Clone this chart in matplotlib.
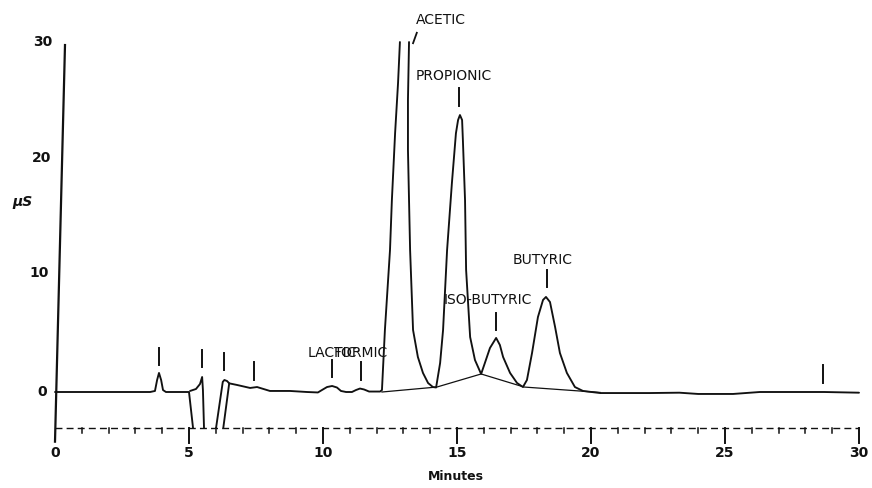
import matplotlib
matplotlib.use("Agg")
import matplotlib.pyplot as plt

# ---------------- data (minutes, µS) ----------------
# detector trace, drawn as pen strokes
trace_a_t = [0.0, 3.55, 3.73, 3.81, 3.88, 3.96, 4.03, 4.14, 5.0, 5.15]
trace_a_y = [0.0, 0.0, 0.09, 1.04, 1.65, 1.04, 0.17, 0.0, 0.0, -3.1]

trace_b_t = [5.04, 5.26, 5.41, 5.49, 5.52, 5.56]
trace_b_y = [0.09, 0.26, 0.69, 1.30, 0.17, -3.1]

trace_c_t = [6.01, 6.26, 6.32, 6.42, 6.50, 6.79, 7.28, 7.54, 8.02, 8.77, 9.40,
             9.81, 9.96, 10.15, 10.34, 10.52, 10.67, 10.86, 11.08, 11.23, 11.38,
             11.53, 11.72, 12.13, 12.20, 12.31, 12.50, 12.57, 12.69, 12.80, 12.87]
trace_c_y = [-3.1, 0.87, 1.04, 0.95, 0.75, 0.61, 0.35, 0.43, 0.09, 0.09, 0.0,
             -0.04, 0.17, 0.43, 0.52, 0.39, 0.09, 0.0, 0.0, 0.17, 0.30,
             0.22, 0.04, 0.04, 0.17, 5.37, 12.29, 16.6, 22.4, 26.75, 30.3]

trace_d_t = [6.50, 6.28]
trace_d_y = [0.75, -3.1]

trace_e_t = [13.21, 13.17, 13.17, 13.21, 13.25, 13.36, 13.54, 13.73, 13.92, 14.10,
             14.22, 14.37, 14.48, 14.63, 14.81, 14.96, 15.04, 15.11, 15.19, 15.22,
             15.30, 15.34, 15.49, 15.67, 15.90, 16.04, 16.23, 16.46, 16.60, 16.72,
             16.98, 17.24, 17.46, 17.61, 17.80, 18.02, 18.21, 18.32, 18.47, 18.66,
             18.84, 19.10, 19.40, 19.70, 20.34, 22.2, 23.3, 24.0, 25.3, 26.3,
             27.8, 28.7, 30.0]
trace_e_y = [30.3, 25.3, 20.95, 16.6, 12.29, 5.37, 3.03, 1.65, 0.78, 0.43,
             0.39, 2.51, 5.37, 12.29, 18.1, 22.4, 23.55, 23.98, 23.55, 21.8,
             16.6, 10.56, 4.76, 2.77, 1.56, 2.51, 3.81, 4.68, 4.07, 3.03,
             1.65, 0.78, 0.43, 1.04, 3.38, 6.49, 7.97, 8.23, 7.79, 5.63,
             3.38, 1.65, 0.43, 0.09, -0.09, -0.09, -0.06, -0.17, -0.17, 0.0,
             0.0, 0.0, -0.06]

# integration baseline drawn under the acid peaks
base_t = [12.20, 14.25, 15.90, 17.50, 20.34]
base_y = [0.0, 0.43, 1.56, 0.43, -0.04]

# integration event marks (time, bottom, top)
mark_t = [3.88, 5.49, 6.31, 7.43, 10.34, 11.42, 15.07, 16.46, 18.36, 28.66]
mark_lo = [2.34, 2.16, 1.90, 1.04, 1.30, 1.04, 24.8, 5.4, 9.1, 0.78]
mark_hi = [3.81, 3.64, 3.38, 2.60, 2.77, 2.60, 26.3, 6.8, 10.6, 2.34]

# peak names and label anchors
peak_names = ["LACTIC", "FORMIC", "ACETIC", "PROPIONIC", "ISO-BUTYRIC", "BUTYRIC"]
label_t = [10.34, 11.42, 13.45, 13.45, 16.15, 18.20]
label_y = [3.4, 3.4, 32.2, 27.4, 8.0, 11.4]
label_ha = ["center", "center", "left", "left", "center", "center"]

x_ticks = [0, 5, 10, 15, 20, 25, 30]
y_ticks = [0, 10, 20, 30]
y_unit = "\u00b5S"
x_title = "Minutes"

# ---------------- drawing ----------------
PX_X0, PX_PER_MIN = 55.0, 26.8
PX_Y0, PX_PER_US = 392.0, 11.55
W, H = 872, 488

fig = plt.figure(figsize=(W / 100, H / 100), dpi=100)
ax = fig.add_axes([0, 0, 1, 1])
ax.set_xlim(-PX_X0 / PX_PER_MIN, (W - PX_X0) / PX_PER_MIN)
ax.set_ylim((PX_Y0 - H) / PX_PER_US, PX_Y0 / PX_PER_US)
ax.axis("off")

ink = "#111111"
AXIS_Y = -3.1

for t, y in [(trace_a_t, trace_a_y), (trace_b_t, trace_b_y),
             (trace_c_t, trace_c_y), (trace_d_t, trace_d_y), (trace_e_t, trace_e_y)]:
    ax.plot(t, y, color=ink, lw=1.35, solid_joinstyle="round", solid_capstyle="round")

ax.plot(base_t, base_y, color=ink, lw=0.9)

for t, lo, hi in zip(mark_t, mark_lo, mark_hi):
    ax.plot([t, t], [lo, hi], color=ink, lw=1.4)
# slanted acetic mark
ax.plot([13.36, 13.50], [30.2, 31.1], color=ink, lw=1.3)

for name, t, y, ha in zip(peak_names, label_t, label_y, label_ha):
    ax.text(t, y, name, ha=ha, va="center", fontsize=10, color=ink,
            family="DejaVu Sans")

# left (slanted) signal axis
ax.plot([0.373, 0.0], [30.04, -4.3], color=ink, lw=1.6)
y_lab_t = [-0.49, -0.60, -0.49, -0.45]
y_lab_y = [0.0, 10.3, 20.3, 30.3]
for v, t, y in zip(y_ticks, y_lab_t, y_lab_y):
    ax.text(t, y, str(v), ha="center", va="center", fontsize=10,
            fontweight="bold", color=ink)
ax.text(-1.22, (PX_Y0 - 202) / PX_PER_US, y_unit, ha="center", va="center",
        fontsize=10, fontweight="bold", fontstyle="italic", color=ink)

# time axis: dashed line with minute ticks
ax.plot([0, 30], [AXIS_Y, AXIS_Y], color=ink, lw=1.0, linestyle=(0, (5, 3)))
for m in range(1, 31):
    if m % 5 == 0:
        ax.plot([m, m], [AXIS_Y, AXIS_Y - 1.35], color=ink, lw=1.4)
    else:
        ax.plot([m, m], [AXIS_Y, AXIS_Y - 0.45], color=ink, lw=1.1)
for v in x_ticks:
    ax.text(v, -5.3, str(v), ha="center", va="center", fontsize=10,
            fontweight="bold", color=ink)
ax.text(14.95, (PX_Y0 - 477) / PX_PER_US, x_title, ha="center", va="center",
        fontsize=9, fontweight="bold", color=ink)

fig.savefig("out.png", dpi=100, facecolor="white")
